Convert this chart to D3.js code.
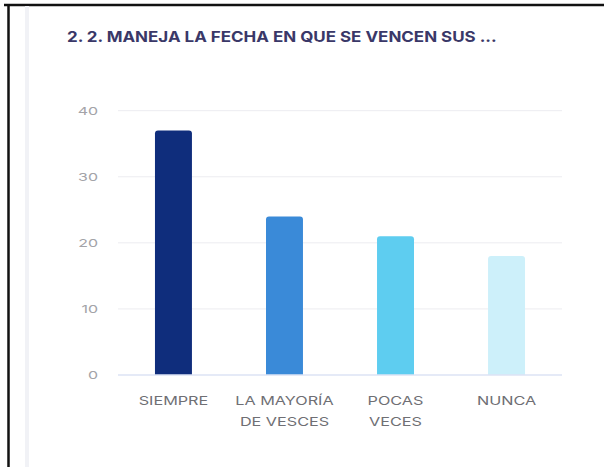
<!DOCTYPE html>
<html>
<head>
<meta charset="utf-8">
<script src="https://cdn.jsdelivr.net/npm/d3@7"></script>
<style>
  body { margin: 0; background: #fff; }
  svg { display: block; }
</style>
</head>
<body>
<div id="chart"></div>
<script>
// chart data
var categories = [["SIEMPRE"], ["LA MAYORÍA", "DE VESCES"], ["POCAS", "VECES"], ["NUNCA"]];
var values = [37, 24, 21, 18];
var colors = ["#0f2d7c", "#3a8ad8", "#5ecdf0", "#cdf0fa"];
var yTicks = [0, 10, 20, 30, 40];
var title = "2. 2. MANEJA LA FECHA EN QUE SE VENCEN SUS ...";

var W = 604, H = 467;
var margin = {top: 110.7, right: 42, bottom: 92, left: 118};
// the screenshot is a bit stretched sideways, so text gets widened too
var FONT = "Inter, 'Noto Sans', sans-serif";

var svg = d3.select("#chart").append("svg")
    .attr("width", W)
    .attr("height", H);

// frame: black border top/left, soft gray inner line
svg.append("line").attr("x1", 4).attr("x2", W).attr("y1", 5).attr("y2", 5)
    .attr("stroke", "#111").attr("stroke-width", 2.5);
svg.append("line").attr("x1", 8.5).attr("x2", 8.5).attr("y1", 4).attr("y2", H)
    .attr("stroke", "#111").attr("stroke-width", 2.5);
svg.append("rect").attr("x", 25).attr("y", 6).attr("width", 4).attr("height", H)
    .attr("fill", "#f1f2f6");

svg.append("g")
    .attr("transform", "translate(67,42) scale(1.17,1)")
    .append("text")
    .attr("font-family", FONT)
    .attr("font-weight", 700)
    .attr("font-size", "14.5px")
    .attr("fill", "#3a3868")
    .text(title);

var x = d3.scaleBand()
    .domain(d3.range(values.length))
    .range([margin.left, W - margin.right])
    .paddingInner(0.667)
    .paddingOuter(0.333);

var y = d3.scaleLinear()
    .domain([0, 40])
    .range([375, margin.top]);

// grid lines
svg.append("g").selectAll("line")
    .data(yTicks.slice(1))
    .enter().append("line")
    .attr("x1", margin.left).attr("x2", W - margin.right)
    .attr("y1", function(d){ return y(d); })
    .attr("y2", function(d){ return y(d); })
    .attr("stroke", "#ececf0")
    .attr("stroke-width", 1);

// y axis labels
var yAxis = svg.append("g")
    .attr("transform", "translate(" + (margin.left - 20) + ",0)")
    .call(d3.axisLeft(y).tickValues(yTicks).tickSize(0).tickPadding(0));
yAxis.select(".domain").remove();
yAxis.selectAll("text")
    .attr("font-family", FONT)
    .attr("font-size", "11px")
    .attr("fill", "#a3a3a8")
    .attr("transform", "scale(1.45,1)");

// bars with rounded top
svg.append("g").selectAll("path")
    .data(values)
    .enter().append("path")
    .attr("d", function(d, i){
        var x0 = x(i), w = x.bandwidth(), y0 = y(d), y1 = y(0), r = 3;
        return "M" + x0 + "," + y1 +
            "V" + (y0 + r) +
            "Q" + x0 + "," + y0 + " " + (x0 + r) + "," + y0 +
            "H" + (x0 + w - r) +
            "Q" + (x0 + w) + "," + y0 + " " + (x0 + w) + "," + (y0 + r) +
            "V" + y1 + "Z";
    })
    .attr("fill", function(d, i){ return colors[i]; });

// baseline
svg.append("line")
    .attr("x1", margin.left).attr("x2", W - margin.right)
    .attr("y1", y(0)).attr("y2", y(0))
    .attr("stroke", "#dde3f5").attr("stroke-width", 1.5);

// category labels
var labels = svg.append("g").selectAll("g")
    .data(categories)
    .enter().append("g")
    .attr("transform", function(d, i){
        return "translate(" + (x(i) + x.bandwidth() / 2) + ",405) scale(1.35,1)";
    })
    .append("text")
    .attr("text-anchor", "middle")
    .attr("font-family", FONT)
    .attr("font-size", "12px")
    .attr("fill", "#6f6f74");
labels.selectAll("tspan")
    .data(function(d){ return d; })
    .enter().append("tspan")
    .attr("x", 0)
    .attr("y", function(d, j){ return j * 21; })
    .text(function(d){ return d; });
</script>
</body>
</html>
